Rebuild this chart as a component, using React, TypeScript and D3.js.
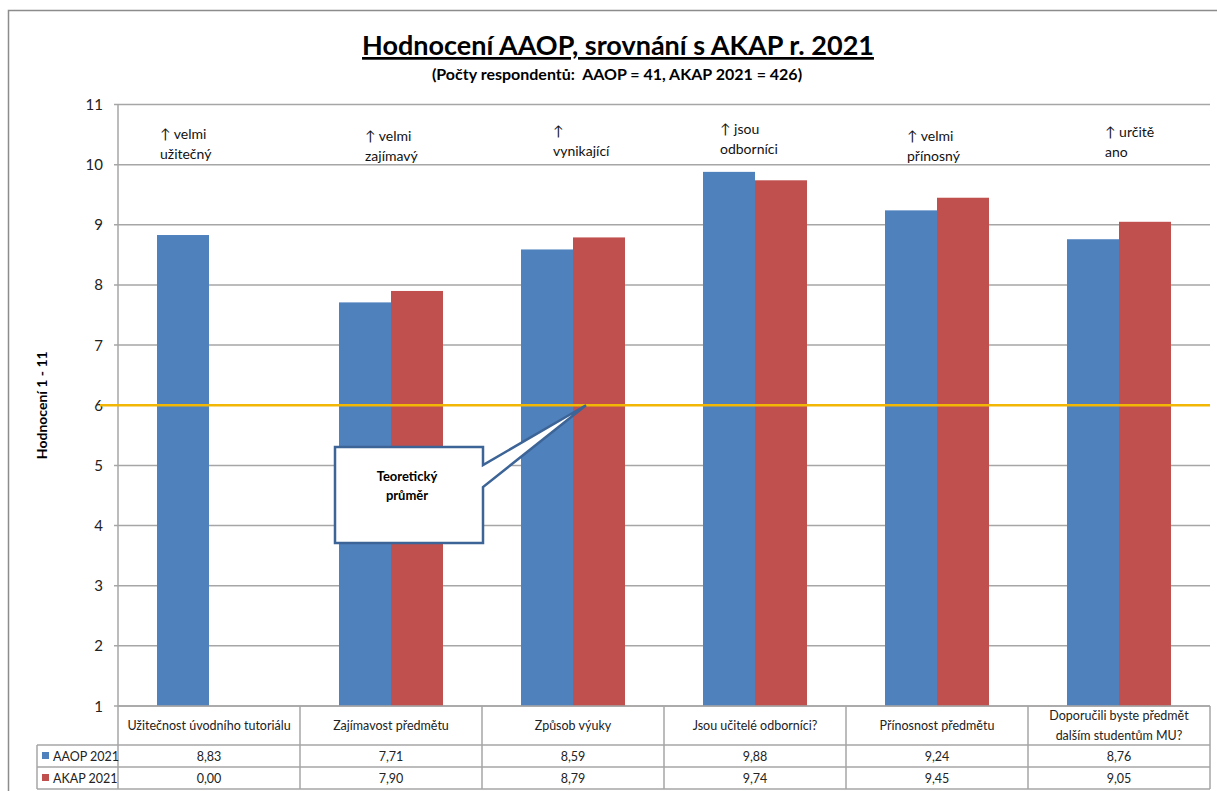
import React, { useEffect, useRef } from 'react';
import * as d3 from 'd3';

const categories = [
  ['Užitečnost úvodního tutoriálu'],
  ['Zajímavost předmětu'],
  ['Způsob výuky'],
  ['Jsou učitelé odborníci?'],
  ['Přínosnost předmětu'],
  ['Doporučili byste předmět', 'dalším studentům MU?'],
];
const seriesNames = ['AAOP 2021', 'AKAP 2021'];
const aaop = [8.83, 7.71, 8.59, 9.88, 9.24, 8.76];
const akap = [0, 7.9, 8.79, 9.74, 9.45, 9.05];
const yTicks = [1, 2, 3, 4, 5, 6, 7, 8, 9, 10, 11];
const notes = [
  ['↑ velmi', 'užitečný'],
  ['↑ velmi', 'zajímavý'],
  ['↑', 'vynikající'],
  ['↑ jsou', 'odborníci'],
  ['↑ velmi', 'přínosný'],
  ['↑ určitě', 'ano'],
];
const theoreticalMean = 6;

// layout offsets for the hand-placed notes (px from category centre)
const noteDx = [-49, -26, -20, -35, -30, -14];
const noteDy = [0, 2, -3, -5, 2, -2];

const colors = ['#4F81BD', '#C0504D'];
const FONT = 'Lato, "Open Sans", sans-serif';

const App = () => {
  const svgRef = useRef<SVGSVGElement>(null);

  useEffect(() => {
    const svg = d3.select(svgRef.current);
    svg.selectAll('*').remove();

    const left = 118, right = 1210, top = 104.5, bottom = 706;
    const headerH = 39, rowH = 22;

    const x = d3.scaleBand<number>()
      .domain(d3.range(categories.length))
      .range([left, right]);
    const y = d3.scaleLinear().domain([1, 11]).range([bottom, top]);
    const barW = x.bandwidth() / 3.5;

    // outer frame
    svg.append('rect')
      .attr('x', 8.5).attr('y', 10.5)
      .attr('width', 1300).attr('height', 900)
      .attr('fill', 'white')
      .attr('stroke', '#8c8c8c').attr('stroke-width', 1.5);

    // title
    svg.append('text')
      .attr('x', 618).attr('y', 55)
      .attr('text-anchor', 'middle')
      .style('font', `bold 27px ${FONT}`)
      .style('text-decoration', 'underline')
      .text('Hodnocení AAOP, srovnání s AKAP r. 2021');
    svg.append('text')
      .attr('x', 617).attr('y', 80)
      .attr('text-anchor', 'middle')
      .style('font', `bold 16px ${FONT}`)
      .attr('xml:space', 'preserve')
      .text('(Počty respondentů:  AAOP = 41, AKAP 2021 = 426)');

    // gridlines
    svg.append('g')
      .selectAll('line')
      .data(yTicks)
      .join('line')
      .attr('x1', left - 4).attr('x2', right)
      .attr('y1', d => y(d)).attr('y2', d => y(d))
      .attr('stroke', '#a6a6a6').attr('stroke-width', 1.5);

    svg.append('line')
      .attr('x1', left).attr('x2', left)
      .attr('y1', top).attr('y2', bottom)
      .attr('stroke', '#a6a6a6').attr('stroke-width', 1.5);

    svg.append('g')
      .selectAll('text')
      .data(yTicks)
      .join('text')
      .attr('x', 103).attr('y', d => y(d) + 5.5)
      .attr('text-anchor', 'end')
      .style('font', `15px ${FONT}`)
      .attr('fill', '#222')
      .text(d => d);

    svg.append('text')
      .attr('transform', `translate(47,${(top + bottom) / 2}) rotate(-90)`)
      .attr('text-anchor', 'middle')
      .style('font', `bold 14px ${FONT}`)
      .text('Hodnocení 1 - 11');

    // bars
    [aaop, akap].forEach((vals, s) => {
      svg.append('g')
        .selectAll('rect')
        .data(vals)
        .join('rect')
        .attr('x', (d, i) => x(i)! + x.bandwidth() / 2 - barW + s * barW)
        .attr('width', barW)
        .attr('y', d => y(Math.max(d, 1)))
        .attr('height', d => bottom - y(Math.max(d, 1)))
        .attr('fill', colors[s]);
    });

    // notes above bars
    notes.forEach((lines, i) => {
      const t = svg.append('text')
        .attr('x', x(i)! + x.bandwidth() / 2 + noteDx[i])
        .attr('y', 139 + noteDy[i])
        .style('font', `14px ${FONT}`)
        .attr('fill', '#111');
      lines.forEach((l, j) => {
        t.append('tspan')
          .attr('x', x(i)! + x.bandwidth() / 2 + noteDx[i])
          .attr('dy', j === 0 ? 0 : 20)
          .text(l);
      });
    });

    // theoretical mean line
    svg.append('line')
      .attr('x1', 100).attr('x2', right)
      .attr('y1', y(theoreticalMean)).attr('y2', y(theoreticalMean))
      .attr('stroke', '#F2B705').attr('stroke-width', 2.5);

    // callout
    const cx = 335, cy = 447, cw = 148, ch = 96;
    const tip: [number, number] = [x(2)! + x.bandwidth() / 2 + 13, y(theoreticalMean)];
    svg.append('path')
      .attr('d', `M${cx},${cy} H${cx + cw} V${cy + 18} L${tip[0]},${tip[1]} L${cx + cw},${cy + 40} V${cy + ch} H${cx} Z`)
      .attr('fill', 'white')
      .attr('stroke', '#3C6496').attr('stroke-width', 2.5)
      .attr('stroke-linejoin', 'miter');
    svg.append('text')
      .attr('x', cx + cw / 2 - 2).attr('y', cy + 34)
      .attr('text-anchor', 'middle')
      .style('font', `bold 13px ${FONT}`)
      .text('Teoretický');
    svg.append('text')
      .attr('x', cx + cw / 2 - 2).attr('y', cy + 53)
      .attr('text-anchor', 'middle')
      .style('font', `bold 13px ${FONT}`)
      .text('průměr');

    // data table
    const tg = svg.append('g');
    const grid = '#a6a6a6';
    const tBottom = bottom + headerH + rowH * 2;
    const legendLeft = 37;
    // horizontal lines
    tg.append('line').attr('x1', left).attr('x2', right)
      .attr('y1', bottom).attr('y2', bottom);
    [bottom + headerH, bottom + headerH + rowH, tBottom].forEach(yy => {
      tg.append('line').attr('x1', legendLeft).attr('x2', right)
        .attr('y1', yy).attr('y2', yy);
    });
    // vertical lines
    const colEdges = d3.range(categories.length + 1).map(i => left + i * x.step());
    colEdges.forEach(xx => {
      tg.append('line').attr('x1', xx).attr('x2', xx)
        .attr('y1', bottom).attr('y2', tBottom);
    });
    tg.append('line').attr('x1', legendLeft).attr('x2', legendLeft)
      .attr('y1', bottom + headerH).attr('y2', tBottom);
    tg.selectAll('line').attr('stroke', grid).attr('stroke-width', 1.5);

    categories.forEach((lines, i) => {
      const cxm = x(i)! + x.bandwidth() / 2;
      const y0 = bottom + headerH / 2 + 4.5 - (lines.length - 1) * 10;
      lines.forEach((l, j) => {
        tg.append('text')
          .attr('x', cxm).attr('y', y0 + j * 20)
          .attr('text-anchor', 'middle')
          .style('font', `12.5px ${FONT}`)
          .attr('fill', '#222')
          .text(l);
      });
    });

    [aaop, akap].forEach((vals, s) => {
      const ry = bottom + headerH + rowH * s;
      tg.append('rect')
        .attr('x', 42).attr('y', ry + 7)
        .attr('width', 7).attr('height', 7)
        .attr('fill', colors[s]);
      tg.append('text')
        .attr('x', 53).attr('y', ry + 15.5)
        .style('font', `12.5px ${FONT}`)
        .attr('fill', '#222')
        .text(seriesNames[s]);
      vals.forEach((v, i) => {
        tg.append('text')
          .attr('x', x(i)! + x.bandwidth() / 2).attr('y', ry + 15.5)
          .attr('text-anchor', 'middle')
          .style('font', `12.5px ${FONT}`)
          .attr('fill', '#222')
          .text(d3.format('.2f')(v).replace('.', ','));
      });
    });
  }, []);

  return (
    <svg
      ref={svgRef}
      width={1217}
      height={791}
      style={{ position: 'absolute', left: 0, top: 0, background: 'white', display: 'block' }}
    />
  );
};

export default App;
